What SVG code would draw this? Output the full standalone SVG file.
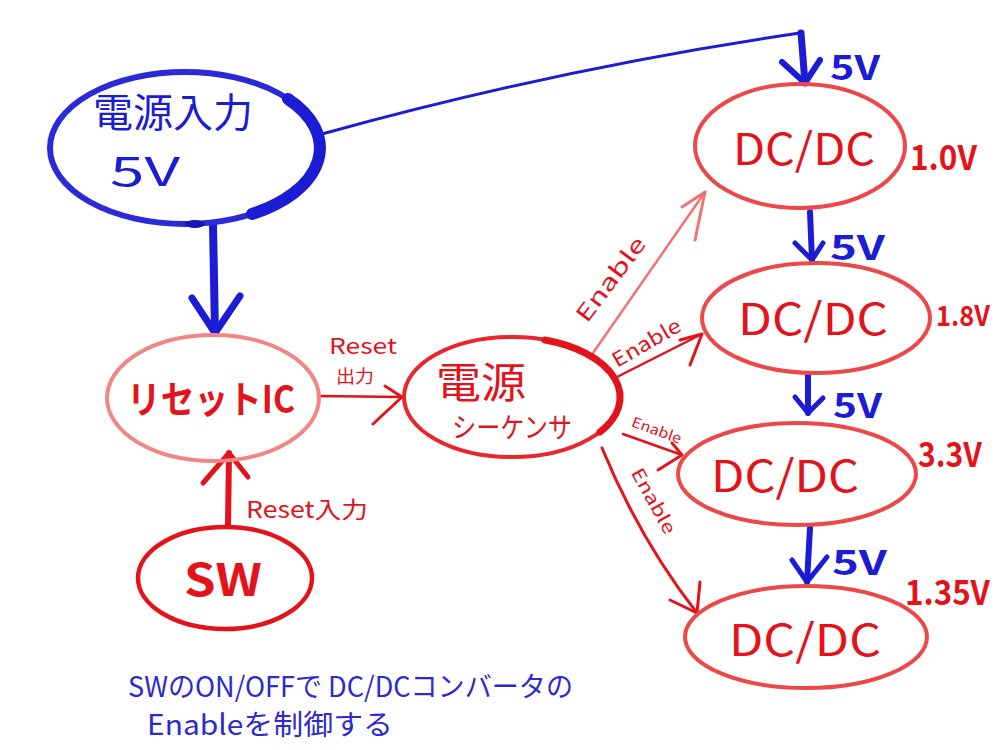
<svg xmlns="http://www.w3.org/2000/svg" width="1000" height="750" viewBox="0 0 1000 750">
<style>
text{font-family:"Noto Sans CJK JP","Noto Sans",sans-serif}
.r{fill:#e3131b}
.b{fill:#1c1cd4}
.bn{fill:#2b2bd0}
.lab{font-weight:bold}
.ln{fill:none;stroke-linecap:round;stroke-linejoin:round}
.bl{stroke:#1c1cd4}
.rl{stroke:#e3131b}
.pl{stroke:#f07474}
.dc{fill:none;stroke:#ec4848;stroke-width:4}
</style>
<rect width="1000" height="750" fill="#fff"/>

<g id="connectors">
  <path class="ln bl" d="M213 224 L215 333" stroke-width="8"/>
  <path class="ln bl" d="M192 298 L215 333 L240 296" stroke-width="7"/>
  <path class="ln bl" d="M322 134 Q560 68 800 33" stroke-width="3"/>
  <path class="ln bl" d="M801 33 L805 83" stroke-width="7"/>
  <path class="ln bl" d="M782 62 L805 83 L820 60" stroke-width="6"/>
  <path class="ln bl" d="M810 212 L812 260" stroke-width="6"/>
  <path class="ln bl" d="M795 243 L812 260 L823 243" stroke-width="5"/>
  <path class="ln bl" d="M808 375 L808 413" stroke-width="6"/>
  <path class="ln bl" d="M795 397 L808 413 L823 398" stroke-width="5"/>
  <path class="ln bl" d="M810 528 L807 582" stroke-width="6"/>
  <path class="ln bl" d="M792 560 L807 582 L827 557" stroke-width="5"/>

  <path class="ln rl" d="M228 525 L229 453" stroke-width="6"/>
  <path class="ln rl" d="M203 483 L229 453 L248 477" stroke-width="5"/>
  <path class="ln rl" d="M318 396 L402 397" stroke-width="2.5"/>
  <path class="ln rl" d="M385 386 L402 397 L373 424" stroke-width="3"/>

  <path class="ln pl" d="M593 353 L705 192" stroke-width="2.5"/>
  <path class="ln pl" d="M682 207 L705 192 L695 240" stroke-width="3"/>
  <path class="ln rl" d="M617 377 L702 334" stroke-width="2.5"/>
  <path class="ln rl" d="M680 340 L702 334 L690 365" stroke-width="3"/>
  <path class="ln rl" d="M623 434 L682 455" stroke-width="2.5"/>
  <path class="ln rl" d="M672 443 L682 455 L658 470" stroke-width="3"/>
  <path class="ln rl" d="M602 448 Q640 540 697 613" stroke-width="3"/>
  <path class="ln rl" d="M700 582 L697 613 L670 600" stroke-width="3"/>

  <text class="r" font-size="22" textLength="100" lengthAdjust="spacingAndGlyphs" text-anchor="middle" transform="translate(617,284) rotate(-53)">Enable</text>
  <text class="r" font-size="20" textLength="76" lengthAdjust="spacingAndGlyphs" text-anchor="middle" transform="translate(650,349) rotate(-30)">Enable</text>
  <text class="r" font-size="14" textLength="52" lengthAdjust="spacingAndGlyphs" text-anchor="middle" transform="translate(655,435) rotate(20)">Enable</text>
  <text class="r" font-size="18" textLength="72" lengthAdjust="spacingAndGlyphs" text-anchor="middle" transform="translate(648,504) rotate(61)">Enable</text>
  <text class="r" font-size="22" x="329" y="354" textLength="68" lengthAdjust="spacingAndGlyphs">Reset</text>
  <text class="r" font-size="18" x="336" y="383" textLength="38" lengthAdjust="spacingAndGlyphs">出力</text>
  <text class="r" font-size="23" x="246" y="518" textLength="122" lengthAdjust="spacingAndGlyphs">Reset入力</text>
  <text class="b lab" font-size="34" x="830" y="80" textLength="50" lengthAdjust="spacingAndGlyphs">5V</text>
  <text class="b lab" font-size="34" x="830" y="260" textLength="55" lengthAdjust="spacingAndGlyphs">5V</text>
  <text class="b lab" font-size="34" x="833" y="418" textLength="49" lengthAdjust="spacingAndGlyphs">5V</text>
  <text class="b lab" font-size="34" x="832" y="575" textLength="55" lengthAdjust="spacingAndGlyphs">5V</text>
</g>

<g id="power-input">
  <ellipse cx="185" cy="148" rx="135" ry="76" fill="none" stroke="#2a2ad8" stroke-width="6"/>
  <path class="ln" d="M288 99 A135 76 0 0 1 252 214" stroke="#1c1cd4" stroke-width="12"/>
  <ellipse cx="195" cy="224" rx="10" ry="4" fill="#1515b8"/>
  <text class="b" font-size="40" x="93" y="127" textLength="160" lengthAdjust="spacingAndGlyphs">電源入力</text>
  <text class="b" font-size="40" x="110" y="186" textLength="70" lengthAdjust="spacingAndGlyphs">5V</text>
</g>

<g id="reset-ic">
  <ellipse cx="213" cy="398" rx="106" ry="63" fill="none" stroke="#f08686" stroke-width="4"/>
  <text class="r lab" font-size="38" x="127" y="413" textLength="168" lengthAdjust="spacingAndGlyphs">リセットIC</text>
</g>

<g id="sw">
  <ellipse cx="225" cy="578" rx="87" ry="51" fill="none" stroke="#e3131b" stroke-width="4.5"/>
  <text class="r lab" font-size="44" x="184" y="596" textLength="78" lengthAdjust="spacingAndGlyphs">SW</text>
</g>

<g id="sequencer">
  <ellipse cx="512" cy="397" rx="108" ry="60" fill="none" stroke="#e8262e" stroke-width="4"/>
  <path class="ln" d="M545 340 A108 60 0 0 1 600 432" stroke="#e3131b" stroke-width="7"/>
  <text class="r" font-size="42" x="436" y="398" textLength="90" lengthAdjust="spacingAndGlyphs">電源</text>
  <text class="r" font-size="28" x="452" y="438" textLength="120" lengthAdjust="spacingAndGlyphs">シーケンサ</text>
</g>

<g id="dcdc1">
  <ellipse cx="800" cy="146" rx="105" ry="62" class="dc"/>
  <text class="r" font-size="44" x="804" y="165" text-anchor="middle" textLength="142" lengthAdjust="spacingAndGlyphs">DC/DC</text>
  <text class="r lab" font-size="34" x="910" y="170" textLength="67" lengthAdjust="spacingAndGlyphs">1.0V</text>
</g>

<g id="dcdc2">
  <ellipse cx="816" cy="318" rx="114" ry="55" class="dc"/>
  <text class="r" font-size="44" x="813" y="335" text-anchor="middle" textLength="150" lengthAdjust="spacingAndGlyphs">DC/DC</text>
  <text class="r lab" font-size="28" x="936" y="326" textLength="54" lengthAdjust="spacingAndGlyphs">1.8V</text>
</g>

<g id="dcdc3">
  <ellipse cx="797" cy="474" rx="119" ry="51" class="dc"/>
  <text class="r" font-size="44" x="785" y="492" text-anchor="middle" textLength="148" lengthAdjust="spacingAndGlyphs">DC/DC</text>
  <text class="r lab" font-size="34" x="918" y="467" textLength="64" lengthAdjust="spacingAndGlyphs">3.3V</text>
</g>

<g id="dcdc4">
  <ellipse cx="806" cy="637" rx="121" ry="51" class="dc"/>
  <text class="r" font-size="44" x="805" y="656" text-anchor="middle" textLength="152" lengthAdjust="spacingAndGlyphs">DC/DC</text>
  <text class="r lab" font-size="34" x="905" y="605" textLength="85" lengthAdjust="spacingAndGlyphs">1.35V</text>
</g>

<g id="note">
  <text class="bn" font-size="28" x="128" y="697" textLength="445" lengthAdjust="spacingAndGlyphs">SWのON/OFFで DC/DCコンバータの</text>
  <text class="bn" font-size="28" x="147" y="735" textLength="246" lengthAdjust="spacingAndGlyphs">Enableを制御する</text>
</g>
</svg>
